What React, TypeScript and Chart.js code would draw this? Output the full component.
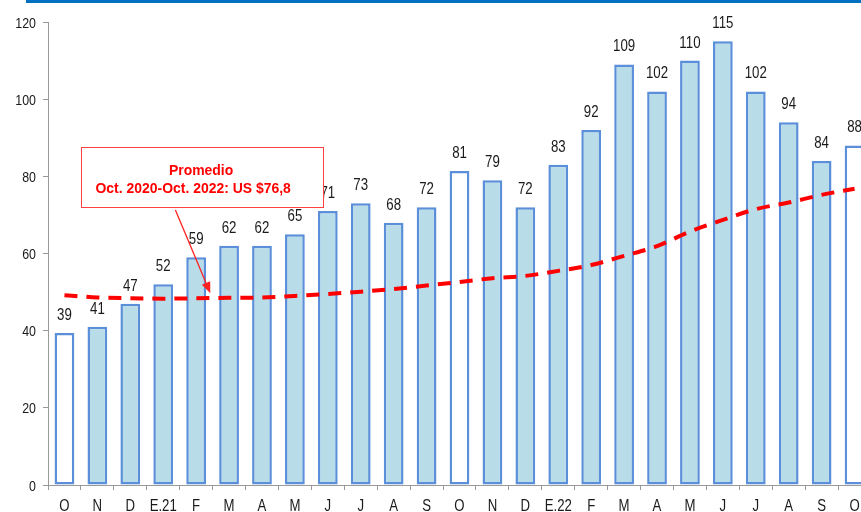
import React, { useEffect, useRef } from "react";
import { Chart, registerables } from "chart.js";

Chart.register(...registerables);

const categories = ["O", "N", "D", "E.21", "F", "M", "A", "M", "J", "J", "A", "S", "O", "N", "D", "E.22", "F", "M", "A", "M", "J", "J", "A", "S", "O"];
const monthlyValues = [39.4, 41, 47, 52, 59, 62, 62, 65, 71, 73, 68, 72, 81.4, 79, 72, 83, 92, 109, 102, 110, 115, 102, 94, 84, 88];
const trendValues = [49.2, 48.6, 48.4, 48.3, 48.4, 48.5, 48.6, 49.0, 49.5, 50.1, 50.8, 51.7, 52.6, 53.6, 54.2, 55.5, 57, 59.4, 61.9, 65.7, 68.7, 71.5, 73.2, 75.2, 76.8];
const yTicks = [0, 20, 40, 60, 80, 100, 120];
const annotationLines = ["Promedio", "Oct. 2020-Oct. 2022: US $76,8"];

const FONT = "'Liberation Sans', Arial, sans-serif";
const BAR_FILL = "#b8dde9";
const BAR_BORDER = "#5b8fd9";
const RED = "#ff0000";

// draws horizontally condensed text (emulates a narrow typeface)
function narrowText(
  ctx: CanvasRenderingContext2D,
  text: string,
  x: number,
  y: number,
  size: number,
  sx: number,
  align: CanvasTextAlign,
  color: string,
  bold = false
) {
  ctx.save();
  ctx.font = `${bold ? "bold " : ""}${size}px ${FONT}`;
  ctx.fillStyle = color;
  ctx.textAlign = align;
  ctx.textBaseline = "alphabetic";
  ctx.translate(x, y);
  ctx.scale(sx, 1);
  ctx.fillText(text, 0, 0);
  ctx.restore();
}

const dataLabelPlugin = {
  id: "dataLabels",
  afterDatasetsDraw(chart: any) {
    const { ctx } = chart;
    const meta = chart.getDatasetMeta(0);
    meta.data.forEach((bar: any, i: number) => {
      narrowText(ctx, String(Math.round(monthlyValues[i])), bar.x, bar.y - 13, 17, 0.78, "center", "#1a1a1a");
    });
  },
};

const tickLabelPlugin = {
  id: "tickLabels",
  afterDraw(chart: any) {
    const { ctx } = chart;
    const x = chart.scales.x;
    const y = chart.scales.y;
    yTicks.forEach((v) => {
      narrowText(ctx, String(v), x.left - 12, y.getPixelForValue(v) + 5.5, 15.5, 0.8, "right", "#1a1a1a");
    });
    categories.forEach((c, i) => {
      narrowText(ctx, c, x.getPixelForValue(i), 511, 16.5, 0.8, "center", "#1a1a1a");
    });
  },
};

const annotationPlugin = {
  id: "promedioNote",
  afterDraw(chart: any) {
    const { ctx } = chart;
    const x = chart.scales.x;
    const y = chart.scales.y;
    const bx0 = Math.round(x.getPixelForValue(0.49)) + 0.5;
    const bx1 = Math.round(x.getPixelForValue(7.84)) + 0.5;
    const by0 = Math.round(y.getPixelForValue(87.6)) + 0.5;
    const by1 = Math.round(y.getPixelForValue(72.1)) + 0.5;
    ctx.save();
    ctx.fillStyle = "#ffffff";
    ctx.fillRect(bx0, by0, bx1 - bx0, by1 - by0);
    ctx.strokeStyle = "#ff4040";
    ctx.lineWidth = 1;
    ctx.strokeRect(bx0, by0, bx1 - bx0, by1 - by0);
    ctx.restore();

    narrowText(ctx, annotationLines[0], x.getPixelForValue(4.15), y.getPixelForValue(81.9) + 5.6, 15.5, 0.9, "center", RED, true);
    narrowText(ctx, annotationLines[1], x.getPixelForValue(3.91), y.getPixelForValue(77.1) + 5.6, 15.5, 0.9, "center", RED, true);

    // arrow
    ctx.save();
    const sx = x.getPixelForValue(3.37), sy = y.getPixelForValue(71.3);
    const tx = x.getPixelForValue(4.43), ty = y.getPixelForValue(49.7);
    const ang = Math.atan2(ty - sy, tx - sx);
    const headLen = 11, headW = 4.5;
    const bxp = tx - headLen * Math.cos(ang), byp = ty - headLen * Math.sin(ang);
    ctx.strokeStyle = "#ff2020";
    ctx.lineWidth = 1.3;
    ctx.beginPath();
    ctx.moveTo(sx, sy);
    ctx.lineTo(bxp, byp);
    ctx.stroke();
    ctx.fillStyle = "#ff2020";
    ctx.beginPath();
    ctx.moveTo(tx, ty);
    ctx.lineTo(bxp + headW * Math.sin(ang), byp - headW * Math.cos(ang));
    ctx.lineTo(bxp - headW * Math.sin(ang), byp + headW * Math.cos(ang));
    ctx.closePath();
    ctx.fill();
    ctx.restore();
  },
};

export default function App() {
  const canvasRef = useRef<HTMLCanvasElement | null>(null);

  useEffect(() => {
    if (!canvasRef.current) return;
    const chart = new Chart(canvasRef.current, {
      type: "bar",
      data: {
        labels: categories,
        datasets: [
          {
            type: "bar",
            data: monthlyValues,
            backgroundColor: categories.map((c) => (c === "O" ? "#ffffff" : BAR_FILL)),
            borderColor: BAR_BORDER,
            borderWidth: 2.5,
            borderSkipped: false,
            categoryPercentage: 1,
            barPercentage: 0.6,
            order: 2,
          } as any,
          {
            type: "line",
            data: trendValues,
            borderColor: RED,
            borderWidth: 4,
            borderDash: [13, 9],
            borderCapStyle: "butt",
            pointRadius: 0,
            fill: false,
            tension: 0.4,
            cubicInterpolationMode: "monotone",
            order: 1,
          } as any,
        ],
      },
      options: {
        responsive: false,
        animation: false,
        layout: { padding: { top: 22, left: 0, right: 0, bottom: 0 } },
        plugins: { legend: { display: false }, tooltip: { enabled: false } },
        scales: {
          x: {
            grid: { display: true, drawOnChartArea: false, tickLength: 5, color: "#999", offset: true },
            border: { display: true, color: "#999", width: 1 },
            ticks: { color: "rgba(0,0,0,0)", font: { family: FONT, size: 15 }, padding: 3, maxRotation: 0, autoSkip: false },
            afterFit: (s: any) => { s.height = 27; },
          },
          y: {
            min: 0,
            max: 120,
            afterBuildTicks: (s: any) => { s.ticks = yTicks.map((v) => ({ value: v })); },
            grid: { display: true, drawOnChartArea: false, tickLength: 5, color: "#999" },
            border: { display: true, color: "#999", width: 1 },
            ticks: { color: "rgba(0,0,0,0)", font: { family: FONT, size: 15 }, padding: 7 },
            afterFit: (s: any) => { s.width = 48; },
          },
        },
      },
      plugins: [dataLabelPlugin, tickLabelPlugin, annotationPlugin],
    });
    return () => chart.destroy();
  }, []);

  return (
    <div style={{ position: "fixed", left: 0, top: 0, width: 861, height: 512, overflow: "hidden", background: "#fff" }}>
      <div style={{ position: "absolute", left: 26, top: 0, width: 835, height: 3, background: "#0070c0" }} />
      <canvas ref={canvasRef} width={871} height={512} style={{ width: 871, height: 512, display: "block" }} />
    </div>
  );
}
